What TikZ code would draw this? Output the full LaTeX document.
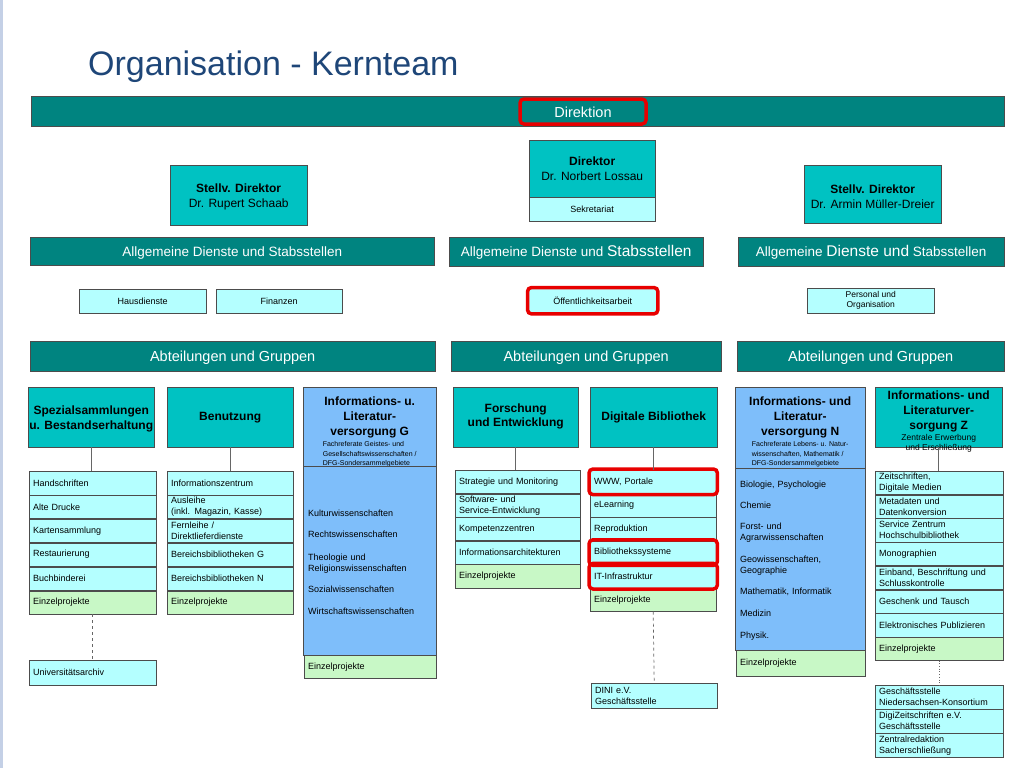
\documentclass[tikz,border=0pt]{standalone}
\usepackage{fontspec}
\setmainfont{Liberation Sans}
\usepackage{tikz}
\usetikzlibrary{positioning,fit}
\definecolor{barteal}{RGB}{0,132,128}
\definecolor{headteal}{RGB}{0,194,194}
\definecolor{paleteal}{RGB}{180,255,255}
\definecolor{palegreen}{RGB}{200,248,198}
\definecolor{skyblue}{RGB}{126,190,250}
\definecolor{markred}{RGB}{232,0,0}
\definecolor{titleblue}{RGB}{30,70,120}
\definecolor{edgeblue}{RGB}{196,208,230}
\tikzstyle{title}=[anchor=base west, inner sep=0pt, text=titleblue, font=\fontsize{34}{38}\selectfont]
\tikzstyle{bar}=[rectangle, draw=black!70, fill=barteal, text=white, anchor=north west, inner sep=0pt, text height=11pt, text depth=1pt, font=\fontsize{13.5}{16}\selectfont]
\tikzstyle{bigbar}=[bar, minimum height=30pt, font=\fontsize{14.5}{17}\selectfont]
\tikzstyle{chiefbox}=[rectangle, draw=black!70, fill=headteal, anchor=north west, inner sep=1pt, align=center, font=\fontsize{12}{15}\selectfont]
\tikzstyle{headbox}=[rectangle, draw=black!70, fill=headteal, anchor=north west, inner sep=1pt, align=center, font=\bfseries\fontsize{12}{15}\selectfont]
\tikzstyle{subjhead}=[headbox, fill=skyblue]
\tikzstyle{staffbox}=[rectangle, draw=black!70, fill=paleteal, anchor=north west, inner sep=1pt, align=center, minimum height=24pt, font=\fontsize{9}{10.5}\selectfont]
\tikzstyle{unitbox}=[rectangle, draw=black!70, fill=paleteal, align=left, inner xsep=4pt, inner ysep=0pt, font=\fontsize{9}{11}\selectfont]
\tikzstyle{projbox}=[unitbox, fill=palegreen]
\tikzstyle{subjlist}=[rectangle, draw=black!70, fill=skyblue, anchor=north west, align=left, inner xsep=5pt, inner ysep=0pt, text width=120pt, font=\fontsize{9}{11}\selectfont]
\tikzstyle{hilite}=[rectangle, draw=markred, line width=3.5pt, rounded corners=4pt, inner sep=1pt]
\tikzstyle{link}=[draw=black!60, line width=0.7pt]
\newcommand{\smalltab}[1]{{\normalfont\fontsize{7}{9.5}\selectfont\begin{tabular}[t]{@{}l@{}}#1\end{tabular}}}

\begin{document}
\begin{tikzpicture}[x=1pt, y=-1pt,
      spezcol/.style={text width=119pt, minimum height=23.5pt},
      benucol/.style={text width=118pt, minimum height=23.5pt},
      forscol/.style={text width=117pt, minimum height=23.2pt},
      digicol/.style={text width=118pt, minimum height=23.2pt},
      zentcol/.style={text width=120pt, minimum height=23.3pt}]

    \useasboundingbox (0,0) rectangle (1024,768);
    \fill[edgeblue] (0,0) rectangle (2.5,768);

    % title and leadership
    \node[title] (title) at (88,75) {Organisation - Kernteam};
    \node[bigbar, minimum width=973pt] (direktion) at (31,96) {};
    \node[hilite, text=white, font=\fontsize{14.5}{17}\selectfont, text height=11pt, text depth=0pt, minimum width=126pt, minimum height=25pt] (dirmark) at (583,111.5) {Direktion};

    \node[chiefbox, minimum width=137pt, minimum height=60pt] (stvlinks) at (170,165) {\rule{0pt}{13pt}\textbf{Stellv. Direktor}\\Dr. Rupert Schaab};
    \node[chiefbox, minimum width=126pt, minimum height=57pt] (direktor) at (529,140) {\textbf{Direktor}\\Dr. Norbert Lossau};
    \node[staffbox, minimum width=126pt, below=0pt of direktor] (sekr) {Sekretariat};
    \node[chiefbox, minimum width=137pt, minimum height=58pt] (stvrechts) at (804,165) {\rule{0pt}{13pt}\textbf{Stellv. Direktor}\\Dr. Armin Müller-Dreier};

    % staff units
    \node[bar, minimum width=404pt, minimum height=28pt] (dienstlinks) at (30,237) {Allgemeine Dienste und Stabsstellen};
    \node[bar, minimum width=254pt, minimum height=29pt] (dienstmitte) at (449,237) {Allgemeine Dienste und {\fontsize{15.5}{16}\selectfont Stabsstellen}};
    \node[bar, minimum width=266pt, minimum height=29pt] (dienstrechts) at (738,237) {Allgemeine {\fontsize{15.5}{16}\selectfont Dienste und} Stabsstellen};

    \node[staffbox, minimum width=127pt] (haus) at (79,289) {Hausdienste};
    \node[staffbox, minimum width=126pt] (finanz) at (216,289) {Finanzen};
    \node[staffbox, minimum width=129pt, minimum height=25pt] (oeff) at (528,288) {Öffentlichkeitsarbeit};
    \node[hilite, fit=(oeff), inner sep=0.5pt] (oeffmark) {};
    \node[staffbox, minimum width=127pt, minimum height=25pt, font=\fontsize{8.5}{10}\selectfont] (personal) at (807,288) {Personal und\\Organisation};

    % departments
    \node[bigbar, minimum width=405pt] (abtlinks) at (30,341) {Abteilungen und Gruppen};
    \node[bigbar, minimum width=270pt] (abtmitte) at (451,341) {Abteilungen und Gruppen};
    \node[bigbar, minimum width=267pt] (abtrechts) at (737,341) {Abteilungen und Gruppen};

    % Spezialsammlungen
    \node[headbox, minimum width=126pt, minimum height=60pt] (spez) at (28,387) {\rule{0pt}{12pt}Spezialsammlungen\\u. Bestandserhaltung};
    \node[unitbox, spezcol, anchor=north west] (hand) at (29,471) {Handschriften};
    \node[unitbox, spezcol, below=0pt of hand] (druck) {Alte Drucke};
    \node[unitbox, spezcol, below=0pt of druck] (karten) {Kartensammlung};
    \node[unitbox, spezcol, below=0pt of karten] (rest) {Restaurierung};
    \node[unitbox, spezcol, below=0pt of rest] (buch) {Buchbinderei};
    \node[projbox, spezcol, below=0pt of buch] (spezproj) {Einzelprojekte};
    \node[unitbox, spezcol, minimum height=25pt, anchor=north west] (uarch) at (29,660) {Universitätsarchiv};
    \draw[link] (spez.south) -- (spez.south |- hand.north);
    \draw[link, dashed] (spezproj.south) -- (uarch.north);

    % Benutzung
    \node[headbox, minimum width=126pt, minimum height=60pt] (benu) at (167,387) {Benutzung};
    \node[unitbox, benucol, anchor=north west] (infoz) at (167,471) {Informationszentrum};
    \node[unitbox, benucol, below=0pt of infoz] (ausl) {Ausleihe\\(inkl. Magazin, Kasse)};
    \node[unitbox, benucol, below=0pt of ausl] (fernl) {Fernleihe /\\Direktlieferdienste};
    \node[unitbox, benucol, below=0pt of fernl] (bbg) {Bereichsbibliotheken G};
    \node[unitbox, benucol, below=0pt of bbg] (bbn) {Bereichsbibliotheken N};
    \node[projbox, benucol, below=0pt of bbn] (benuproj) {Einzelprojekte};
    \draw[link] (benu.south) -- (benu.south |- infoz.north);

    % Informations- und Literaturversorgung G
    \node[subjhead, minimum width=133pt, minimum height=79pt] (ilvg) at (303,387) {\rule{0pt}{17pt}Informations- u.\\Literatur-\\versorgung G\\[-3.5pt]\smalltab{Fachreferate Geistes- und\\Gesellschaftswissenschaften /\\DFG-Sondersammelgebiete}};
    \node[subjlist, text width=123pt, minimum height=189pt] (ilvglist) at (303,466) {\rule{0pt}{10pt}Kulturwissenschaften\\[10pt]Rechtswissenschaften\\[12pt]Theologie und\\Religionswissenschaften\\[10pt]Sozialwissenschaften\\[11pt]Wirtschaftswissenschaften};
    \node[projbox, text width=124pt, minimum height=23pt, anchor=north west] (ilvgproj) at (304,655) {Einzelprojekte};

    % Forschung und Entwicklung
    \node[headbox, minimum width=125pt, minimum height=60pt] (fue) at (453,387) {Forschung\\[-1pt]und Entwicklung\rule[-5pt]{0pt}{5pt}};
    \node[unitbox, forscol, anchor=north west] (strat) at (455,470) {Strategie und Monitoring};
    \node[unitbox, forscol, below=0pt of strat] (softw) {Software- und\\Service-Entwicklung};
    \node[unitbox, forscol, below=0pt of softw] (kompz) {Kompetenzzentren};
    \node[unitbox, forscol, below=0pt of kompz] (infarch) {Informationsarchitekturen};
    \node[projbox, forscol, below=0pt of infarch] (fueproj) {Einzelprojekte};
    \draw[link] (fue.south) -- (fue.south |- strat.north);

    % Digitale Bibliothek
    \node[headbox, minimum width=127pt, minimum height=60pt] (digi) at (590,387) {Digitale Bibliothek};
    \node[unitbox, digicol, anchor=north west] (www) at (590,470) {WWW, Portale};
    \node[unitbox, digicol, below=0pt of www] (elearn) {eLearning};
    \node[unitbox, digicol, below=0pt of elearn] (repro) {Reproduktion};
    \node[unitbox, digicol, below=0pt of repro] (bibsys) {Bibliothekssysteme};
    \node[unitbox, digicol, below=0pt of bibsys] (itinfra) {IT-Infrastruktur};
    \node[projbox, digicol, below=0pt of itinfra] (digiproj) {Einzelprojekte};
    \node[unitbox, digicol, minimum height=25pt, anchor=north west] (dini) at (591,683) {DINI e.V.\\Geschäftsstelle};
    \node[hilite, fit=(www)] (wwwmark) {};
    \node[hilite, fit=(bibsys)] (bibsysmark) {};
    \node[hilite, fit=(itinfra)] (itmark) {};
    \draw[link] (digi.south) -- (digi.south |- www.north);
    \draw[link, dashed] (digiproj.south) -- (dini.north);

    % Informations- und Literaturversorgung N
    \node[subjhead, minimum width=130pt, minimum height=81pt] (ilvn) at (735,387) {\rule{0pt}{17pt}Informations- und\\Literatur-\\versorgung N\\[-3.5pt]\smalltab{Fachreferate Lebens- u. Natur-\\wissenschaften, Mathematik /\\DFG-Sondersammelgebiete}};
    \node[subjlist, minimum height=182pt] (ilvnlist) at (735,468) {\rule{0pt}{10pt}Biologie, Psychologie\\[10pt]Chemie\\[10pt]Forst- und\\Agrarwissenschaften\\[11pt]Geowissenschaften,\\Geographie\\[10pt]Mathematik, Informatik\\[11pt]Medizin\\[11pt]Physik.};
    \node[projbox, text width=121pt, minimum height=26pt, anchor=north west] (ilvnproj) at (736,650) {Einzelprojekte};

    % Informations- und Literaturversorgung Z
    \node[headbox, minimum width=127pt, minimum height=60pt, text height=52pt, text depth=6pt] (ilvz) at (875,387) {Informations- und\\Literaturver-\\sorgung Z\\[-4pt]{\normalfont\fontsize{8.5}{10.5}\selectfont\begin{tabular}[t]{@{}c@{}}Zentrale Erwerbung\\und Erschließung\end{tabular}}};
    \node[unitbox, zentcol, anchor=north west] (zeitschr) at (875,471) {Zeitschriften,\\Digitale Medien};
    \node[unitbox, zentcol, below=0pt of zeitschr] (metad) {Metadaten und\\Datenkonversion};
    \node[unitbox, zentcol, below=0pt of metad] (servz) {Service Zentrum\\Hochschulbibliothek};
    \node[unitbox, zentcol, below=0pt of servz] (monogr) {Monographien};
    \node[unitbox, zentcol, below=0pt of monogr] (einband) {Einband, Beschriftung und\\Schlusskontrolle};
    \node[unitbox, zentcol, below=0pt of einband] (geschenk) {Geschenk und Tausch};
    \node[unitbox, zentcol, below=0pt of geschenk] (epubl) {Elektronisches Publizieren};
    \node[projbox, zentcol, below=0pt of epubl] (ilvzproj) {Einzelprojekte};
    \node[unitbox, zentcol, minimum height=23.7pt, anchor=north west] (konsort) at (875,685) {Geschäftsstelle\\Niedersachsen-Konsortium};
    \node[unitbox, zentcol, minimum height=23.7pt, below=0pt of konsort] (digizs) {DigiZeitschriften e.V.\\Geschäftsstelle};
    \node[unitbox, zentcol, minimum height=23.7pt, below=0pt of digizs] (zentred) {Zentralredaktion\\Sacherschließung};
    \draw[link] (ilvz.south) -- (ilvz.south |- zeitschr.north);
    \draw[link, dotted, line width=1pt] (ilvzproj.south) -- (konsort.north);
  \end{tikzpicture}
\end{document}
